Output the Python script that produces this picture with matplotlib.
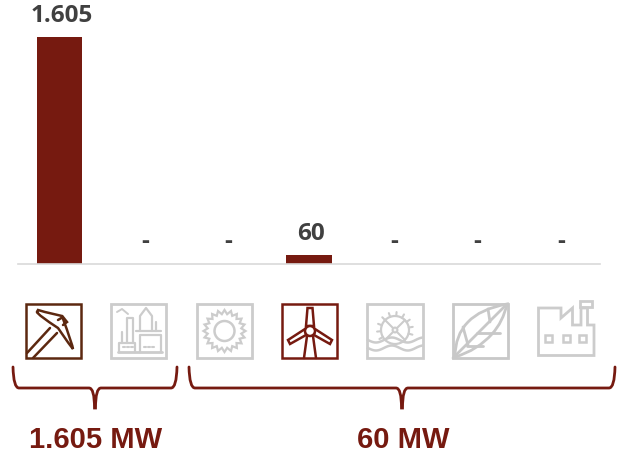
import numpy as np
import matplotlib
matplotlib.use("Agg")
import matplotlib.pyplot as plt
from matplotlib.patches import Rectangle, Circle, PathPatch, Polygon
from matplotlib.path import Path

categories = ["Mineral", "Fossil", "Solar", "Wind", "Hydro", "Biomass", "Industrial"]
values = [1605, 0, 0, 60, 0, 0, 0]
labels = ["1.605", "-", "-", "60", "-", "-", "-"]
group_labels = ["1.605 MW", "60 MW"]

RED = "#761a10"
BROWN = "#5c2810"
GREY = "#cccccc"
LG = "#c8c8c8"
W, H = 623, 459

fig = plt.figure(figsize=(W / 100, H / 100), dpi=100)
ax = fig.add_axes([18 / W, (H - 263.5) / H, 582 / W, 263.5 / H])
x = np.arange(len(categories))
ax.bar(x, values, width=0.55, color=RED)
ax.set_xlim(-0.5, 6.5)
ax.set_ylim(0, 1871)
ax.set_xticks([]); ax.set_yticks([])
for s in ["top", "left", "right"]:
    ax.spines[s].set_visible(False)
ax.spines["bottom"].set_color("#d9d9d9")
ax.spines["bottom"].set_linewidth(1.2)
for xi, v, t in zip(x, values, labels):
    ax.annotate(t, (xi, v), xytext=(1.7, 6.5), textcoords="offset points",
                ha="center", va="bottom", fontsize=17.5, fontweight="bold",
                family="Open Sans", color="#404040", annotation_clip=False)

# pixel-space overlay for pictograms and braces
ov = fig.add_axes([0, 0, 1, 1], facecolor="none")
ov.set_xlim(0, W); ov.set_ylim(H, 0); ov.axis("off")

def line(pts, c, lw=2.0):
    p = np.array(pts)
    ov.plot(p[:, 0], p[:, 1], color=c, lw=lw, solid_capstyle="round", solid_joinstyle="round")

def box(x0, y0, x1, y1, c, lw=2.0):
    ov.add_patch(Rectangle((x0, y0), x1 - x0, y1 - y0, fill=False, ec=c, lw=lw))

def curve(verts, codes, c, lw=2.0, fc="none"):
    ov.add_patch(PathPatch(Path(verts, codes), fc=fc, ec=c, lw=lw, capstyle="round"))

M, L, C = Path.MOVETO, Path.LINETO, Path.CURVE3

# pickaxe
box(25.5, 303.5, 81, 358, BROWN, 1.8)
curve([(37, 312), (38, 310), (40, 311), (62, 316), (73, 346), (73, 349), (71, 347),
       (58, 328), (38, 315), (37, 312)],
      [M, L, C, C, C, L, C, C, C, L], BROWN, 1.8)
curve([(58, 320), (63, 317), (67, 322), (63, 325)], [M, L, L, L], BROWN, 1.8)
line([(27, 353), (50, 328)], BROWN, 1.8); line([(33, 358), (57, 333)], BROWN, 1.8)

# refinery
box(111, 303.5, 166, 358, GREY)
line([(118, 352), (162, 352)], GREY)
line([(119, 352), (119, 343), (135, 343), (135, 352)], GREY, 1.6)
line([(122, 343), (122, 332)], GREY, 1.6)
line([(127, 343), (127, 318), (133, 318), (133, 343)], GREY, 1.6)
line([(117, 312), (122, 309), (128, 314)], GREY, 1.4)
line([(140, 352), (140, 335), (161, 335), (161, 352)], GREY, 1.6)
line([(136, 331), (161, 331)], GREY, 1.6)
line([(140, 331), (140, 316), (146, 308), (152, 316), (152, 331)], GREY, 1.6)
line([(156, 331), (156, 322)], GREY, 1.6)
for xx in [124, 128, 132, 145, 149, 153]:
    line([(xx - 1, 346.5), (xx + 1, 346.5)], GREY, 1.5)

# sun
box(197, 303.5, 252, 358, GREY)
n = 20
ang = np.linspace(0, 2 * np.pi, 2 * n, endpoint=False)
rad = np.where(np.arange(2 * n) % 2 == 0, 21, 17)
ov.add_patch(Polygon(np.c_[224.5 + rad * np.cos(ang), 331 + rad * np.sin(ang)],
                     closed=True, fill=False, ec=GREY, lw=1.6))
ov.add_patch(Circle((224.5, 331), 10, fill=False, ec=GREY, lw=1.8))

# wind turbine
box(282, 303.5, 337, 358, RED, 1.8)
hub = (310, 331)
ov.add_patch(Polygon([(306, 326), (307.5, 308), (312.5, 308), (314, 326)], fill=False, ec=RED, lw=1.8))
ov.add_patch(Polygon([(305, 329), (288, 340), (290, 344), (306, 335)], fill=False, ec=RED, lw=1.8))
ov.add_patch(Polygon([(315, 329), (332, 340), (330, 344), (314, 335)], fill=False, ec=RED, lw=1.8))
line([(307, 336), (304, 358)], RED, 1.8); line([(313, 336), (316, 358)], RED, 1.8)
ov.add_patch(Circle(hub, 5, fc="white", ec=RED, lw=1.8, zorder=4))

# water wheel
box(367, 303.5, 423, 358, GREY)
c = (395, 330)
ov.add_patch(Circle(c, 14, fill=False, ec=GREY, lw=1.6))
ov.add_patch(Circle(c, 2.5, fill=False, ec=GREY, lw=1.4))
for a in np.deg2rad([45, 135, 225, 315]):
    line([(c[0] + 2 * np.cos(a), c[1] + 2 * np.sin(a)), (c[0] + 14 * np.cos(a), c[1] + 14 * np.sin(a))], GREY, 1.5)
for a in np.deg2rad(np.arange(150, 400, 25)):
    line([(c[0] + 14 * np.cos(a), c[1] + 14 * np.sin(a)), (c[0] + 18 * np.cos(a), c[1] + 18 * np.sin(a))], GREY, 1.5)
for y0 in [340, 348]:
    xs = np.linspace(368, 422, 60)
    ov.plot(xs, y0 + 2.5 * np.sin((xs - 368) / 54 * 2 * np.pi * 1.7), color=GREY, lw=1.8, zorder=3)

# leaf
box(453, 303.5, 508, 358, LG)
curve([(455, 357), (455, 335), (468, 322), (480, 309), (507, 304), (503, 322), (492, 334),
       (478, 350), (455, 357)],
      [M, C, C, C, C, C, C, C, C], LG)
line([(453, 358), (506, 305)], LG)
line([(490, 322), (488, 309)], LG); line([(477, 333), (500, 333)], LG)
line([(468, 345), (463, 327)], LG); line([(467, 346), (483, 346)], LG)

# factory
ov.add_patch(Polygon([(538.5, 355.5), (594, 355.5), (594, 325), (587.5, 325), (587.5, 308),
                      (581, 308), (581, 325), (572.5, 325), (572.5, 308), (561, 318),
                      (561, 308), (538.5, 308)], closed=True, fill=False, ec=GREY, lw=2))
box(579.5, 300.5, 592, 307, GREY)
for xx in [545, 562.5, 579]:
    box(xx, 335, xx + 7, 342, GREY, 1.8)

# braces
def brace(x0, xm, x1):
    yt, yb, yp = 367, 388, 408
    curve([(x0, yt), (x0 + 0.5, yb), (x0 + 6, yb), (xm - 6, yb), (xm - 0.5, yb), (xm - 0.5, yp),
           (xm + 0.5, yp), (xm + 0.5, yb), (xm + 6, yb), (x1 - 6, yb), (x1 - 0.5, yb), (x1, yt)],
          [M, C, C, L, C, C, L, C, C, L, C, C], RED, 2.0)

brace(13, 95, 177)
brace(189, 402, 615)

ov.text(95.5, 439.5, group_labels[0], ha="center", va="center", fontsize=21, fontweight="bold",
        family="Liberation Sans", color=RED)
ov.text(403.5, 439.5, group_labels[1], ha="center", va="center", fontsize=21, fontweight="bold",
        family="Liberation Sans", color=RED)

fig.savefig("out.png", dpi=100, facecolor="white")
